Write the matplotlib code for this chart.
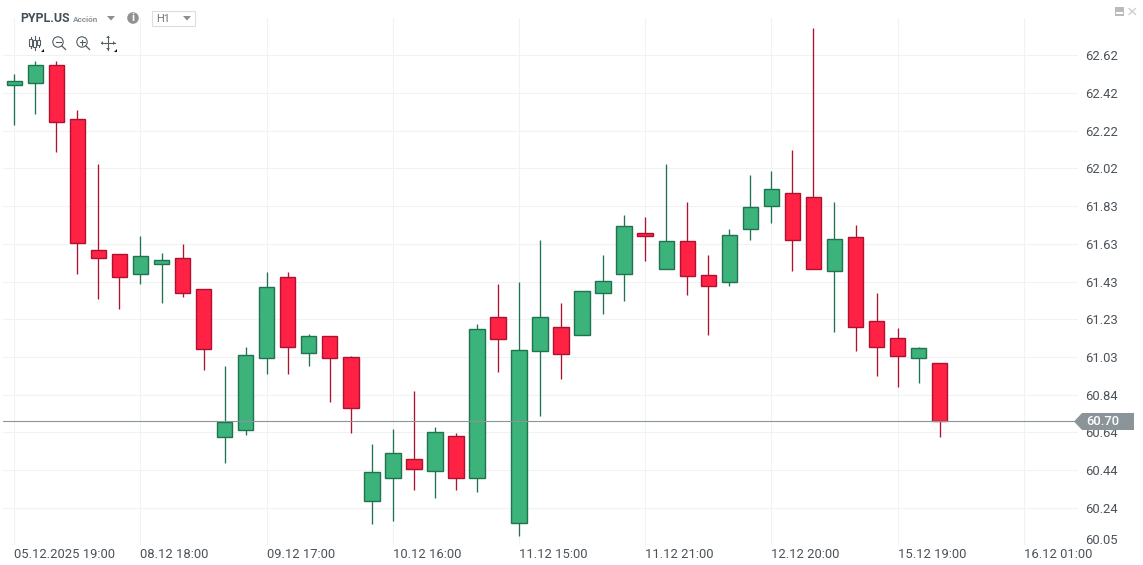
import matplotlib
matplotlib.use("Agg")
import matplotlib.pyplot as plt
from matplotlib.patches import Rectangle, Polygon, Circle

plt.rcParams['font.family'] = ['Roboto', 'DejaVu Sans']

opens = [62.463, 62.477, 62.569, 62.285, 61.597, 61.576, 61.471, 61.527, 61.555, 61.392,
         60.615, 60.655, 61.030, 61.455, 61.056, 61.146, 61.035, 60.279, 60.403, 60.500,
         60.437, 60.620, 60.403, 61.245, 60.167, 61.067, 61.193, 61.151, 61.371, 61.471,
         61.686, 61.497, 61.644, 61.466, 61.429, 61.707, 61.828, 61.896, 61.875, 61.487,
         61.665, 61.224, 61.135, 61.030, 61.004]
closes = [62.485, 62.569, 62.269, 61.637, 61.558, 61.458, 61.566, 61.545, 61.371, 61.077,
          60.694, 61.046, 61.403, 61.088, 61.146, 61.030, 60.767, 60.431, 60.531, 60.447,
          60.641, 60.403, 61.182, 61.130, 61.072, 61.245, 61.054, 61.382, 61.434, 61.723,
          61.674, 61.644, 61.461, 61.408, 61.676, 61.823, 61.917, 61.650, 61.497, 61.655,
          61.196, 61.088, 61.040, 61.083, 60.699]
highs = [62.523, 62.591, 62.591, 62.334, 62.050, 61.576, 61.672, 61.583, 61.630, 61.392,
         60.990, 61.089, 61.483, 61.483, 61.158, 61.146, 61.042, 60.580, 60.659, 60.858,
         60.669, 60.638, 61.210, 61.420, 61.431, 61.651, 61.320, 61.382, 61.572, 61.782,
         61.772, 62.050, 61.851, 61.572, 61.709, 61.993, 62.013, 62.124, 62.764, 61.851,
         61.730, 61.373, 61.189, 61.089, 61.004]
lows = [62.257, 62.314, 62.115, 61.474, 61.343, 61.290, 61.422, 61.322, 61.353, 60.970,
        60.482, 60.629, 60.949, 60.949, 60.991, 60.802, 60.639, 60.161, 60.177, 60.340,
        60.298, 60.340, 60.330, 60.960, 60.098, 60.729, 60.923, 61.151, 61.264, 61.332,
        61.543, 61.497, 61.364, 61.154, 61.411, 61.653, 61.742, 61.490, 61.497, 61.170,
        61.070, 60.939, 60.881, 60.902, 60.618]

price_ticks = [62.621, 62.421, 62.222, 62.028, 61.828, 61.629, 61.429, 61.235, 61.035,
               60.836, 60.642, 60.443, 60.244]
price_labels = ['62.62', '62.42', '62.22', '62.02', '61.83', '61.63', '61.43', '61.23',
                '61.03', '60.84', '60.64', '60.44', '60.24']
bottom_tick = 60.049
bottom_label = '60.05'
time_ticks = [0, 6, 12, 18, 24, 30, 36, 42, 48]
time_labels = ['05.12.2025 19:00', '08.12 18:00', '09.12 17:00', '10.12 16:00', '11.12 15:00',
               '11.12 21:00', '12.12 20:00', '15.12 19:00', '16.12 01:00']
last_price = 60.698

W, H = 1143, 565
GREEN, GREEN_E = '#3cb37a', '#1f7350'
RED, RED_E = '#ff2244', '#ad1230'
TXT = '#4b5258'
GRID = '#f1f2f3'
TAG = '#8b9498'
FS = 13 * 0.72

fig = plt.figure(figsize=(W / 100, H / 100), dpi=100, facecolor='white')
L, R, T, B = 3, 1078, 18, 545
ax = fig.add_axes([L / W, 1 - B / H, (R - L) / W, (B - T) / H])
ax.set_xlim(-0.537, 50.58)
ax.set_ylim(60.0496, 62.817)
for s in ax.spines.values():
    s.set_visible(False)
ax.set_axisbelow(True)
ax.grid(True, color=GRID, lw=0.75)
ax.yaxis.tick_right()
ax.set_yticks(price_ticks + [bottom_tick], price_labels + [''])
ax.set_xticks(time_ticks, time_labels)
ax.tick_params(axis='both', length=0, labelsize=FS, labelcolor=TXT)
ax.tick_params(axis='y', pad=5.3)
ax.tick_params(axis='x', pad=2.2)
for lab in ax.get_xticklabels():
    lab.set_ha('left')
ax.annotate(bottom_label, xy=(1, bottom_tick), xycoords=('axes fraction', 'data'),
            xytext=(5.3, 3.0), textcoords='offset points', va='center', ha='left',
            fontsize=FS, color=TXT, annotation_clip=False)

idx = list(range(len(opens)))
up = [c >= o for o, c in zip(opens, closes)]
ax.vlines(idx, lows, highs, colors=[GREEN_E if u else RED_E for u in up], lw=0.95, zorder=2)
ax.bar(idx, [abs(c - o) for o, c in zip(opens, closes)],
       bottom=[min(o, c) for o, c in zip(opens, closes)], width=0.735,
       color=[GREEN if u else RED for u in up],
       edgecolor=[GREEN_E if u else RED_E for u in up], linewidth=1.0, zorder=3)
ax.axhline(last_price, color=TAG, lw=0.8, zorder=4)

# interface chrome in pixel coordinates
ov = fig.add_axes([0, 0, 1, 1], facecolor='none')
ov.set_xlim(0, W)
ov.set_ylim(H, 0)
ov.axis('off')
ov.add_patch(Rectangle((15.5, 0), 124, 32, fc='white', ec='none'))
ov.add_patch(Rectangle((0, 0), 300, 13, fc='white', ec='none'))

ov.text(20.5, 18.5, 'PYPL.US', fontsize=12.2 * 0.72, fontweight='bold', color='#444e57', va='center')
ov.text(73, 19.5, 'Acción', fontsize=8.3 * 0.72, fontweight='bold', color='#8f9498', va='center')
ov.add_patch(Polygon([(107, 16), (115, 16), (111, 20.5)], fc='#8a8f93', ec='none'))
ov.add_patch(Circle((133, 18), 5.8, fc='#8f9194', ec='none'))
ov.text(133, 18, 'i', fontsize=8, fontweight='bold', color='white', va='center', ha='center')
ov.add_patch(Rectangle((151.5, 10.5), 43, 15, fc='white', ec='#dcdedf', lw=0.8))
ov.text(156, 18.5, 'H1', fontsize=11 * 0.72, color='#6f767b', va='center')
ov.add_patch(Polygon([(183, 16), (191, 16), (187, 20.5)], fc='#8a8f93', ec='none'))

# toolbar icons
ic = '#555c62'
for x, y0, y1, b0, b1 in [(30.5, 37, 48, 39, 46), (34.5, 36, 50, 40, 47), (38.5, 37, 47, 40, 45)]:
    ov.plot([x, x], [y0, y1], color=ic, lw=0.8)
    ov.add_patch(Rectangle((x - 1.3, b0), 2.6, b1 - b0, fc='white', ec=ic, lw=0.8, zorder=3))
for cx, plus in [(58, False), (82, True)]:
    ov.add_patch(Circle((cx, 42), 5.2, fc='none', ec=ic, lw=0.8))
    ov.plot([cx + 3.8, cx + 7.5], [45.8, 49.5], color=ic, lw=0.9)
    ov.plot([cx - 2.5, cx + 2.5], [42, 42], color=ic, lw=0.8)
    if plus:
        ov.plot([cx, cx], [39.5, 44.5], color=ic, lw=0.8)
ov.plot([101, 115], [43, 43], color=ic, lw=0.8)
ov.plot([108, 108], [36, 50], color=ic, lw=0.8)
for pts in [[(101, 43), (103, 41), (103, 45)], [(115, 43), (113, 41), (113, 45)],
            [(108, 36), (106, 38), (110, 38)], [(108, 50), (106, 48), (110, 48)]]:
    ov.add_patch(Polygon(pts, fc=ic, ec='none'))
for tx in [44, 117]:
    ov.add_patch(Polygon([(tx - 3, 52), (tx, 52), (tx, 49)], fc='#111111', ec='none'))

# window buttons
ov.add_patch(Rectangle((1115, 7), 9, 9, fc='#b9bcbf', ec='none'))
ov.add_patch(Rectangle((1116, 12), 7, 2, fc='white', ec='none'))
ov.plot([1129, 1135.5], [8.5, 14.5], color='#c9cbcd', lw=0.9)
ov.plot([1135.5, 1129], [8.5, 14.5], color='#c9cbcd', lw=0.9)

# last price tag
ov.add_patch(Polygon([(1074, 421.5), (1082, 413), (1134, 413), (1134, 430), (1082, 430)],
                     fc=TAG, ec='none', zorder=5))
ov.text(1086, 421.7, f'{60.70:.2f}', fontsize=FS, fontweight='medium', color='white',
        va='center', ha='left', zorder=6)

fig.savefig('out.png', dpi=100, facecolor='white')
